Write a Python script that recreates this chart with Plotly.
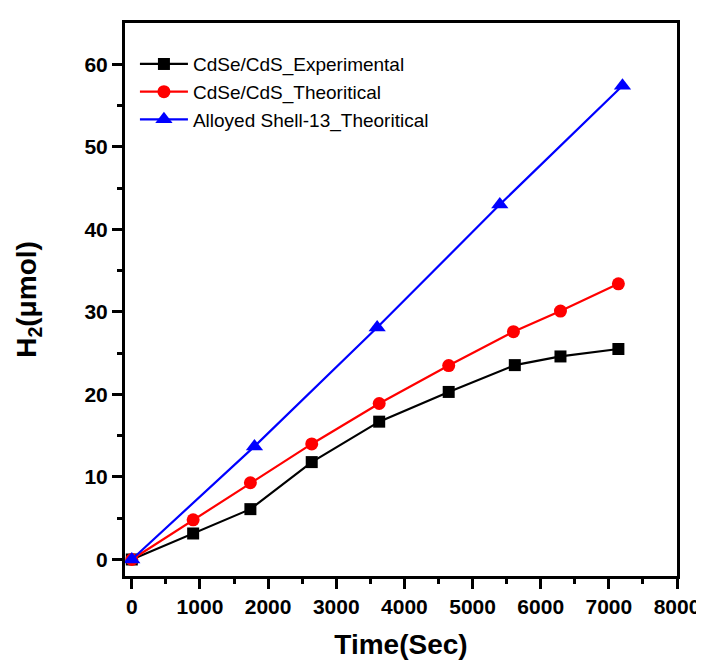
import plotly.graph_objects as go

exp_x = [0, 900, 1740, 2640, 3630, 4650, 5620, 6290, 7140]
exp_y = [0, 3.15, 6.1, 11.8, 16.7, 20.3, 23.55, 24.6, 25.5]

theo_x = [0, 900, 1740, 2640, 3630, 4650, 5600, 6290, 7140]
theo_y = [0, 4.8, 9.3, 14.0, 18.9, 23.5, 27.6, 30.1, 33.4]

alloy_x = [0, 1800, 3600, 5400, 7200]
alloy_y = [0, 13.7, 28.1, 43.0, 57.4]

names = ["CdSe/CdS_Experimental", "CdSe/CdS_Theoritical", "Alloyed Shell-13_Theoritical"]

fig = go.Figure()
fig.add_trace(go.Scatter(x=exp_x, y=exp_y, name=names[0], mode="lines+markers",
                         line=dict(color="black", width=2.2),
                         marker=dict(symbol="square", size=12, color="black")))
fig.add_trace(go.Scatter(x=theo_x, y=theo_y, name=names[1], mode="lines+markers",
                         line=dict(color="#ff0000", width=2.2),
                         marker=dict(symbol="circle", size=13, color="#ff0000")))
fig.add_trace(go.Scatter(x=alloy_x, y=alloy_y, name=names[2], mode="lines+markers",
                         line=dict(color="#0000ff", width=2.2),
                         marker=dict(symbol="triangle-up", size=15, color="#0000ff")))

tickfont = dict(family="Liberation Sans, Arial", size=21, color="black", weight="bold")
titlefont = dict(family="Liberation Sans, Arial", size=28, color="black", weight="bold")

fig.update_layout(
    width=704, height=660,
    paper_bgcolor="white", plot_bgcolor="white",
    margin=dict(l=117, r=27, t=13, b=88),
    showlegend=True,
    legend=dict(x=0.018, y=0.96, xanchor="left", yanchor="top",
                font=dict(family="Liberation Sans, Arial", size=19, color="black"),
                bgcolor="rgba(0,0,0,0)", tracegroupgap=0, itemsizing="trace", itemwidth=48),
    xaxis=dict(range=[-100, 8000], tickmode="array", tickvals=list(range(0, 8001, 1000)),
               showgrid=False, zeroline=False, showline=True, linecolor="black", linewidth=3,
               mirror=True, ticks="outside", ticklen=10, tickwidth=3, tickcolor="black",
               tickfont=tickfont,
               minor=dict(tickvals=list(range(500, 8000, 1000)), ticks="outside", ticklen=5, tickwidth=3, tickcolor="black"),
               title=dict(text="Time(Sec)", font=titlefont, standoff=18)),
    yaxis=dict(range=[-2, 65], tickmode="array", tickvals=list(range(0, 61, 10)),
               showgrid=False, zeroline=False, showline=True, linecolor="black", linewidth=3,
               mirror=True, ticks="outside", ticklen=10, tickwidth=3, tickcolor="black",
               tickfont=tickfont,
               minor=dict(tickvals=list(range(5, 65, 10)), ticks="outside", ticklen=5, tickwidth=3, tickcolor="black"),
               title=dict(text="H<sub>2</sub>(μmol)", font=titlefont, standoff=40)),
)

fig.write_html("out.html")
